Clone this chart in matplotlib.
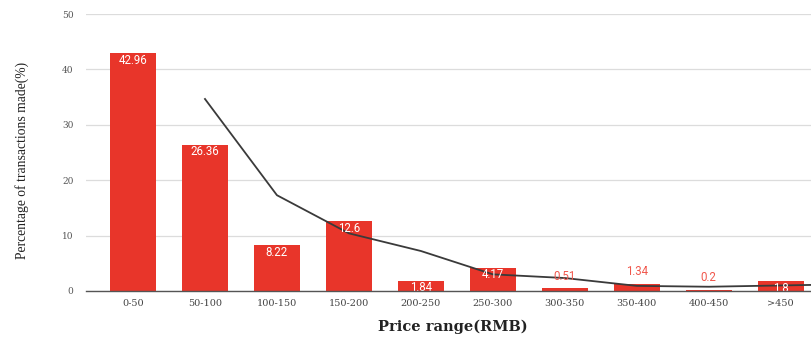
import numpy as np
import matplotlib
matplotlib.use("Agg")
import matplotlib.pyplot as plt

categories = ["0-50", "50-100", "100-150", "150-200", "200-250",
              "250-300", "300-350", "350-400", "400-450", ">450"]
shares = [42.96, 26.36, 8.22, 12.6, 1.84, 4.17, 0.51, 1.34, 0.2, 1.8]
yticks = [0, 10, 20, 30, 40, 50]

bar_color = "#e8352a"
label_red = "#f0574c"

fig = plt.figure(figsize=(8.11, 3.39), dpi=100)
ax = fig.add_axes([86 / 811, 1 - 291 / 339, 1 - 86 / 811, (291 - 14) / 339])

x = np.arange(len(categories))
bars = ax.bar(x, shares, width=0.64, color=bar_color, zorder=2)

# value labels: inside the bar when it is tall enough, above it otherwise
for xi, v in zip(x, shares):
    txt = f"{v:g}"
    if v >= 1.5:
        ax.annotate(txt, (xi, v), xytext=(0, -7), textcoords="offset pixels",
                    ha="center", va="center", color="white", fontsize=8.3,
                    family="Roboto", zorder=4)
    else:
        ax.annotate(txt, (xi, v), xytext=(0, 12), textcoords="offset pixels",
                    ha="center", va="center", color=label_red, fontsize=8.3,
                    family="Roboto", zorder=4)

# two-period moving average trend line, continued past the last bar
vals = np.array(shares)
ma = (vals[1:] + vals[:-1]) / 2
mx = x[1:].astype(float)
ext_x = np.append(mx, mx[-1] + 1)
ext_y = np.append(ma, ma[-1] + (ma[-1] - ma[-2]))
ax.plot(ext_x, ext_y, color="#3a3a3a", lw=1.3, zorder=3)

ax.set_xlim(-0.653, 9.42)
ax.set_ylim(0, 50)
ax.set_yticks(yticks)
ax.set_yticklabels([str(t) for t in yticks], family="DejaVu Serif",
                   fontsize=6.5, color="#555555")
ax.set_xticks(x)
ax.set_xticklabels(categories, family="DejaVu Serif", fontsize=7,
                   color="#444444")
ax.tick_params(axis="both", length=0)
ax.tick_params(axis="y", pad=9)
ax.tick_params(axis="x", pad=6)
ax.grid(axis="y", color="#dcdcdc", lw=0.9, zorder=0)
for s in ["top", "right", "left"]:
    ax.spines[s].set_visible(False)
ax.spines["bottom"].set_color("#555555")
ax.spines["bottom"].set_linewidth(1.0)
ax.spines["bottom"].set_zorder(5)

fig.text(22 / 811, 1 - 160 / 339, "Percentage of transactions made(%)",
         rotation=90, ha="center", va="center", family="Liberation Serif",
         fontsize=9.8, color="#222222")
fig.text(453 / 811, 1 - 327 / 339, "Price range(RMB)", ha="center",
         va="center", family="DejaVu Serif", fontsize=10.5,
         fontweight="bold", color="#222222")

fig.savefig("out.png", dpi=100)
